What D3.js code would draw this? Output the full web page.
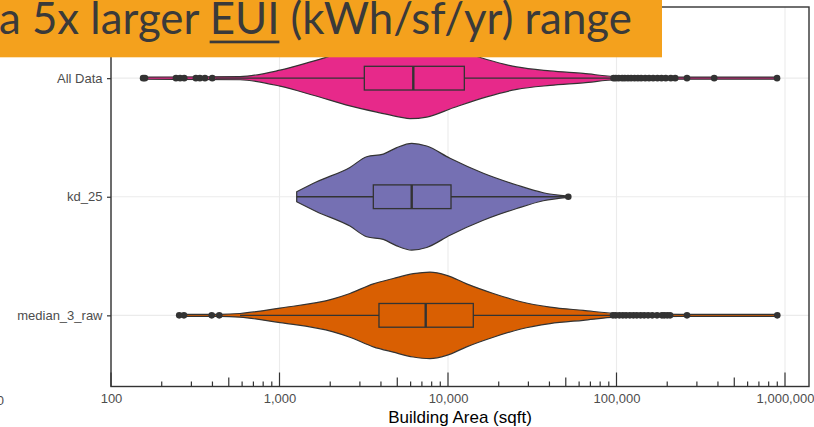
<!DOCTYPE html>
<html>
<head>
<meta charset="utf-8">
<script src="https://cdn.jsdelivr.net/npm/d3@7"></script>
<style>
  body { margin: 0; background: #ffffff; }
  #chart { width: 814px; height: 427px; overflow: hidden; }
</style>
</head>
<body>
<div id="chart"></div>
<script>
// Categories (top to bottom) and fills
const categories = ['All Data', 'kd_25', 'median_3_raw'];
const fillColors = ['#E7298A', '#7570B3', '#D95F02'];

// Boxplot stats (sqft)
const q1Values = [3187, 3604, 3894];
const medianValues = [6224, 6090, 7373];
const q3Values = [12500, 10420, 14130];
const whiskerLow = [420, 1265, 583];
const whiskerHigh = [95000, 51000, 94000];

// Outliers (sqft)
const allDataOutliers = [155, 159, 243, 257, 272, 319, 337, 361, 399,
  96000, 99000, 103000, 108000, 112000, 117000, 122000, 128000, 134000, 140000,
  148000, 156000, 165000, 175000, 185000, 196000, 210000, 223000, 262000, 380000, 897000];
const kd25Outliers = [51750];
const median3Outliers = [254, 271, 396, 439,
  95300, 99000, 104000, 109000, 114000, 120000, 126000, 132000, 139000, 146000,
  154000, 163000, 174000, 186000, 192000, 200000, 208000, 262000, 900000];

// Violin outlines: [sqft, relative half width]
const allDataViolin = [[155, 0.02], [583, 0.03], [1007, 0.15], [1587, 0.32], [2618, 0.52],
  [3945, 0.65], [5188, 0.73], [5945, 0.76], [7476, 0.73], [10750, 0.555], [16970, 0.35],
  [25590, 0.21], [40300, 0.136], [63500, 0.088], [100300, 0.03], [238000, 0.02], [897000, 0.02]];
const kd25Violin = [[1265, 0.093], [1663, 0.28], [2618, 0.55], [3293, 0.75], [4130, 0.80],
  [4963, 0.92], [6095, 1.0], [7476, 0.95], [10280, 0.72], [16200, 0.44], [25590, 0.22],
  [36780, 0.075], [51750, 0.01]];
const median3Violin = [[254, 0.02], [444, 0.02], [583, 0.035], [1007, 0.136], [2084, 0.31],
  [2618, 0.41], [3606, 0.59], [4735, 0.69], [6220, 0.78], [7816, 0.81], [9820, 0.75],
  [12900, 0.59], [18580, 0.41], [26730, 0.26], [40300, 0.155], [63500, 0.093], [100300, 0.035],
  [238000, 0.02], [900000, 0.02]];

const violins = [allDataViolin, kd25Violin, median3Violin];
const outliers = [allDataOutliers, kd25Outliers, median3Outliers];

// X axis breaks
const majorBreaks = [100, 1000, 10000, 100000, 1000000];
const minorMultipliers = [2, 3, 4, 5, 6, 7, 8, 9];

const titleParts = ['a 5x larger ', 'EUI', ' (kWh/sf/yr) range'];

const W = 814, H = 427;
const panel = { left: 111, right: 809, top: 7, bottom: 386.5 };

const svg = d3.select('#chart').append('svg')
  .attr('width', W)
  .attr('height', H)
  .style('font-family', '"Liberation Sans", Arial, sans-serif');

const x = d3.scaleLog().domain([100, 1000000]).range([111, 785]);
const y = d3.scalePoint().domain(categories).range([panel.top, panel.bottom]).padding(0.6);
const halfWidth = d3.scaleLinear().domain([0, 1]).range([0, y.step() * 0.45]);
const boxHalf = y.step() * 0.1;

// Grid
const grid = svg.append('g').attr('stroke', '#EBEBEB').attr('stroke-width', 1.1);
grid.selectAll('.vgrid')
  .data(majorBreaks)
  .enter().append('line')
  .attr('x1', d => x(d)).attr('x2', d => x(d))
  .attr('y1', panel.top).attr('y2', panel.bottom);
grid.selectAll('.hgrid')
  .data(categories)
  .enter().append('line')
  .attr('x1', panel.left).attr('x2', panel.right)
  .attr('y1', d => y(d)).attr('y2', d => y(d));

// Violins
const area = d3.area()
  .curve(d3.curveMonotoneX)
  .x(d => x(d[0]));

categories.forEach((cat, i) => {
  const cy = y(cat);
  svg.append('path')
    .datum(violins[i])
    .attr('d', area.y0(d => cy - halfWidth(d[1])).y1(d => cy + halfWidth(d[1])))
    .attr('fill', fillColors[i])
    .attr('stroke', '#333333')
    .attr('stroke-width', 1.2);
});

// Boxplots
const boxes = svg.append('g').attr('stroke', '#333333').attr('fill', 'none');
categories.forEach((cat, i) => {
  const cy = y(cat);
  const g = boxes.append('g');
  g.append('line')
    .attr('x1', x(whiskerLow[i])).attr('x2', x(q1Values[i]))
    .attr('y1', cy).attr('y2', cy).attr('stroke-width', 1.3);
  g.append('line')
    .attr('x1', x(q3Values[i])).attr('x2', x(whiskerHigh[i]))
    .attr('y1', cy).attr('y2', cy).attr('stroke-width', 1.3);
  g.append('rect')
    .attr('x', x(q1Values[i]))
    .attr('y', cy - boxHalf)
    .attr('width', x(q3Values[i]) - x(q1Values[i]))
    .attr('height', boxHalf * 2)
    .attr('stroke-width', 1.3);
  g.append('line')
    .attr('x1', x(medianValues[i])).attr('x2', x(medianValues[i]))
    .attr('y1', cy - boxHalf).attr('y2', cy + boxHalf)
    .attr('stroke-width', 2.4);
  g.selectAll('circle')
    .data(outliers[i])
    .enter().append('circle')
    .attr('cx', d => x(d))
    .attr('cy', cy)
    .attr('r', 3.3)
    .attr('fill', '#333333')
    .attr('stroke', 'none');
});

// Panel border
svg.append('rect')
  .attr('x', panel.left).attr('y', panel.top)
  .attr('width', panel.right - panel.left)
  .attr('height', panel.bottom - panel.top)
  .attr('fill', 'none')
  .attr('stroke', '#333333')
  .attr('stroke-width', 1.4);

// Log ticks along the bottom (inside panel)
const logTicks = [];
majorBreaks.forEach(b => {
  logTicks.push({ v: b, len: 14 });
  if (b < 1000000) minorMultipliers.forEach(m => logTicks.push({ v: b * m, len: m === 5 ? 9 : 5 }));
});
svg.append('g').selectAll('line')
  .data(logTicks)
  .enter().append('line')
  .attr('x1', d => x(d.v)).attr('x2', d => x(d.v))
  .attr('y1', panel.bottom).attr('y2', d => panel.bottom - d.len)
  .attr('stroke', '#333333')
  .attr('stroke-width', 1.2);

// X axis labels
const xAxis = svg.append('g')
  .attr('transform', `translate(0,${panel.bottom})`)
  .call(d3.axisBottom(x).tickValues(majorBreaks).tickSize(0).tickPadding(7).tickFormat(d3.format(',')));
xAxis.select('.domain').remove();
xAxis.selectAll('text')
  .attr('fill', '#4D4D4D')
  .style('font-size', '13px')
  .style('font-family', '"Liberation Sans", Arial, sans-serif');

// clipped label of the neighbouring panel on the far left
svg.append('text')
  .attr('x', 4)
  .attr('y', panel.bottom + 18)
  .attr('text-anchor', 'end')
  .attr('fill', '#4D4D4D')
  .style('font-size', '13px')
  .text('1,000,000');

svg.append('text')
  .attr('x', (panel.left + panel.right) / 2)
  .attr('y', 423)
  .attr('text-anchor', 'middle')
  .attr('fill', '#000000')
  .style('font-size', '17px')
  .text('Building Area (sqft)');

// Y axis
const yAxis = svg.append('g')
  .attr('transform', `translate(${panel.left},0)`)
  .call(d3.axisLeft(y).tickSize(4).tickPadding(4.5));
yAxis.select('.domain').remove();
yAxis.selectAll('line').attr('stroke', '#333333').attr('stroke-width', 1.2);
yAxis.selectAll('text')
  .attr('fill', '#4D4D4D')
  .style('font-size', '13px')
  .style('font-family', '"Liberation Sans", Arial, sans-serif');

// Title banner
svg.append('rect')
  .attr('x', 0).attr('y', 0)
  .attr('width', 662).attr('height', 57.3)
  .attr('fill', '#F4A11D');

const title = svg.append('text')
  .attr('x', -1)
  .attr('y', 33.5)
  .attr('fill', '#3A3A3A')
  .style('font-family', 'Lato, "Open Sans", sans-serif')
  .style('font-size', '37px');
titleParts.forEach(t => title.append('tspan').text(t));

const measured = title.node().getComputedTextLength();
title.style('font-size', (37 * 633 / measured) + 'px');

const n0 = titleParts[0].length;
const n1 = n0 + titleParts[1].length - 1;
const ux0 = title.node().getStartPositionOfChar(n0).x;
const ux1 = title.node().getEndPositionOfChar(n1).x;
svg.append('rect')
  .attr('x', ux0).attr('y', 40.6)
  .attr('width', ux1 - ux0).attr('height', 2.7)
  .attr('fill', '#3A3A3A');
</script>
</body>
</html>
